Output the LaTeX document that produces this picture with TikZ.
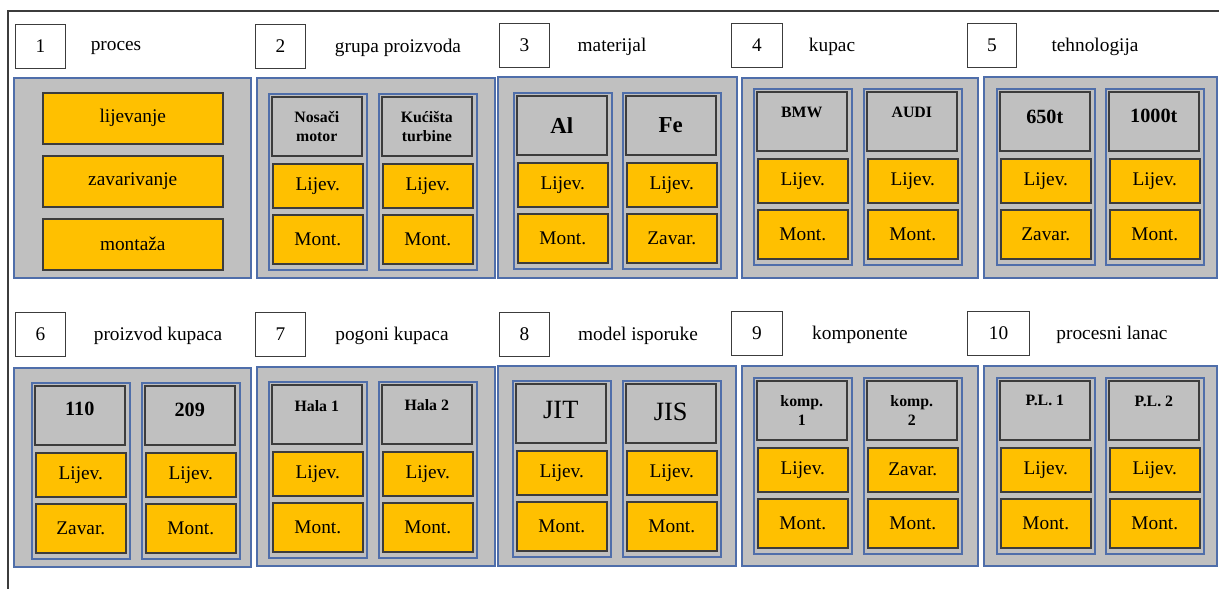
\documentclass[tikz,border=0pt]{standalone}
\usepackage{fontspec}
\setmainfont{Liberation Serif}
\usetikzlibrary{positioning}

\definecolor{panelgray}{RGB}{192,192,192}
\definecolor{boxorange}{RGB}{255,192,0}
\definecolor{panelblue}{RGB}{79,110,170}
\definecolor{boxedge}{RGB}{60,60,60}

\begin{document}
\begin{tikzpicture}[
        x=0.02cm, y=-0.02cm,
        panel/.style={draw=panelblue, fill=panelgray, line width=1.2pt},
        colbox/.style={draw=panelblue, fill=panelgray, line width=1.1pt, anchor=north west,
            inner sep=0pt, minimum width=1.96cm, minimum height=3.52cm},
        hdbox/.style={draw=boxedge, fill=panelgray, line width=0.9pt, anchor=north west,
            inner sep=0pt, minimum width=1.8cm, minimum height=1.18cm},
        stepbox/.style={draw=boxedge, fill=boxorange, line width=0.9pt, anchor=north west,
            inner sep=0pt, minimum width=1.8cm, minimum height=0.88cm,
            font=\fontsize{11}{13}\selectfont},
        numbox/.style={draw=boxedge, fill=white, line width=0.6pt, anchor=north west,
            inner sep=0pt, minimum height=0.88cm, font=\fontsize{11}{13}\selectfont},
        lbl/.style={font=\fontsize{11}{13}\selectfont},
        hdsmall/.style={font=\fontsize{9}{11}\selectfont\bfseries, align=center},
        hdmid/.style={font=\fontsize{11.5}{13}\selectfont\bfseries},
        hdbig/.style={font=\fontsize{13}{15}\selectfont\bfseries},
        hdjit/.style={font=\fontsize{15}{17}\selectfont},
    ]

    \useasboundingbox (0,0) rectangle (1219,589);

    % frame
    \draw[boxedge, line width=0.7pt] (1219,11) -- (8,11) -- (8,589);

    % panels
    \foreach \x/\y/\xx/\yy in {14/78/251/278, 257/78/495/278, 498/77/737/278,
            742/78/978/278, 984/77/1217/278, 14/368/251/567, 257/367/495/566,
            498/366/736/566, 742/366/978/566, 984/366/1217/566}
        \filldraw[panel] (\x,\y) rectangle (\xx,\yy);

    % number boxes and titles
    \foreach \n/\x/\y/\w/\lx/\ltxt in {1/15/24/50/116/proces,
            2/255/24/50/398/grupa proizvoda, 3/499/23/50/612/materijal,
            4/731/23/51/832/kupac, 5/967/23/49/1095/tehnologija,
            6/15/312/50/158/proizvod kupaca, 7/255/312/50/392/pogoni kupaca,
            8/499/312/50/638/model isporuke, 9/731/311/51/860/komponente,
            10/967/311/62/1112/procesni lanac}{
        \node[numbox, minimum width=\w*0.02cm] (n\n) at (\x,\y) {\n};
        \node[lbl] (l\n) at (\lx,\y+24) {\ltxt};
    }

    % panel 1
    \node[stepbox, minimum width=3.6cm, minimum height=1.02cm] (s1) at (42,92) {lijevanje};
    \node[stepbox, minimum width=3.6cm, minimum height=1.02cm] (s2) at (42,155) {zavarivanje};
    \node[stepbox, minimum width=3.6cm, minimum height=1.02cm] (s3) at (42,218) {montaža};

    % columns of panels 2-10
    \foreach \n/\x/\y/\hf/\hy/\htxt/\ba/\bb in {
            2a/268/93/hdsmall/0/{Nosači\\motor}/Lijev./Mont.,
            2b/378/93/hdsmall/0/{Kućišta\\turbine}/Lijev./Mont.,
            3a/513/92/hdbig/0/Al/Lijev./Mont.,
            3b/622/92/hdbig/0/Fe/Lijev./Zavar.,
            4a/753/88/hdsmall/9/BMW/Lijev./Mont.,
            4b/863/88/hdsmall/9/AUDI/Lijev./Mont.,
            5a/996/88/hdmid/4/650t/Lijev./Zavar.,
            5b/1105/88/hdmid/5/1000t/Lijev./Mont.,
            6a/31/382/hdmid/6/110/Lijev./Zavar.,
            6b/141/382/hdmid/5/209/Lijev./Mont.,
            7a/268/381/hdsmall/8/{Hala 1}/Lijev./Mont.,
            7b/378/381/hdsmall/9/{Hala 2}/Lijev./Mont.,
            8a/512/380/hdjit/3/JIT/Lijev./Mont.,
            8b/622/380/hdjit/1/JIS/Lijev./Mont.,
            9a/753/377/hdsmall/0/{komp.\\1}/Lijev./Mont.,
            9b/863/377/hdsmall/0/{komp.\\2}/Zavar./Mont.,
            10a/996/377/hdsmall/10/{P.L. 1}/Lijev./Mont.,
            10b/1105/377/hdsmall/9/{P.L. 2}/Lijev./Mont.}{
        \node[colbox] (c\n) at (\x,\y) {};
        \node[hdbox] (h\n) at (\x+3,\y+3) {};
        \node[\hf] (t\n) at ([yshift=\hy*0.567pt]h\n.center) {\htxt};
        \node[stepbox] (a\n) at (\x+4,\y+70) {\ba};
        \node[stepbox, minimum height=0.98cm] (b\n) at (\x+4,\y+121) {\bb};
    }

\end{tikzpicture}
\end{document}
